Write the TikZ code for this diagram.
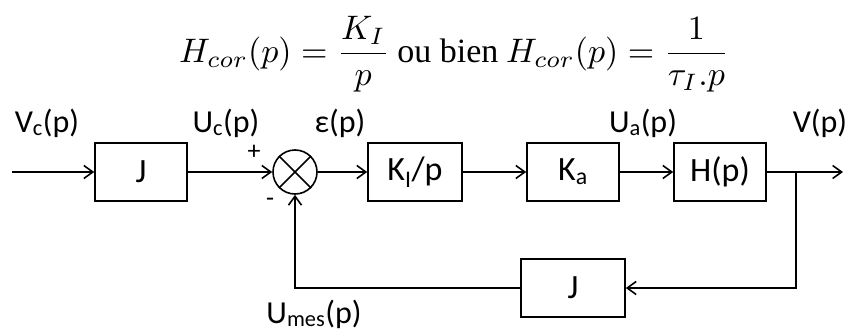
\documentclass[tikz,border=0pt]{standalone}
\usepackage{graphicx}
\usepackage[no-math]{fontspec}
\setmainfont{Carlito}
\newfontfamily\serifr{Liberation Serif}
\usetikzlibrary{arrows.meta}
\begin{document}
\begin{tikzpicture}[x=1pt,y=-1pt,
  blk/.style={draw,line width=1.6pt,minimum width=92pt,minimum height=58pt,inner sep=0pt,font=\fontsize{34}{36}\selectfont},
  lbl/.style={inner sep=0pt,font=\fontsize{32}{34}\selectfont},
  sgn/.style={inner sep=0pt,font=\fontsize{26}{28}\selectfont},
  wire/.style={line width=1.6pt,-{Straight Barb[length=9pt,width=13pt,line width=1.6pt]}},
  plain/.style={line width=1.6pt}]
\useasboundingbox (0,0) rectangle (848,329);
% equation
\node[inner sep=0pt,anchor=west] (eq) at (179,54) {\scalebox{3.4}{\normalsize
  $\displaystyle H_{cor}(p)=\frac{K_I}{p}$\ {\serifr ou bien}\ $\displaystyle H_{cor}(p)=\frac{1}{\tau_I.p}$}};
% blocks
\node[blk] (J1) at (141,172) {J};
\node[draw,circle,line width=1.6pt,minimum size=44pt,inner sep=0pt] (S) at (295,172) {};
\draw[plain] (S.45) -- (S.225) (S.135) -- (S.315);
\node[blk,minimum width=94pt] (KI) at (415,172) {K\textsubscript{I}/p};
\node[blk] (Ka) at (573,172) {K\textsubscript{a}};
\node[blk] (H) at (720,172) {H(p)};
\node[blk,minimum width=104pt] (J2) at (573,288) {J};
\coordinate (in) at (12,172);
\coordinate (out) at (843,172);
\coordinate (br) at (796,172);
\coordinate (bl) at (295,288);
% wires
\draw[wire] (in) -- (J1);
\draw[wire] (J1) -- (S);
\draw[wire] (S) -- (KI);
\draw[wire] (KI) -- (Ka);
\draw[wire] (Ka) -- (H);
\draw[wire] (H.east) -- (out);
\draw[wire] (br) |- (J2.east);
\draw[wire] (J2.west) -- (bl) -- (S.south);
% labels
\node[lbl] (lVc) at (47,123) {V\textsubscript{c}(p)};
\node[lbl] (lUc) at (226,123) {U\textsubscript{c}(p)};
\node[lbl] (leps) at (340,123) {ε(p)};
\node[lbl] (lUa) at (643,123) {U\textsubscript{a}(p)};
\node[lbl] (lV) at (820,123) {V(p)};
\node[lbl] (lUm) at (314,314) {U\textsubscript{mes}(p)};
\node[sgn] (plus) at (254,152) {+};
\node[sgn] (minus) at (270,202) {-};
\end{tikzpicture}
\end{document}
